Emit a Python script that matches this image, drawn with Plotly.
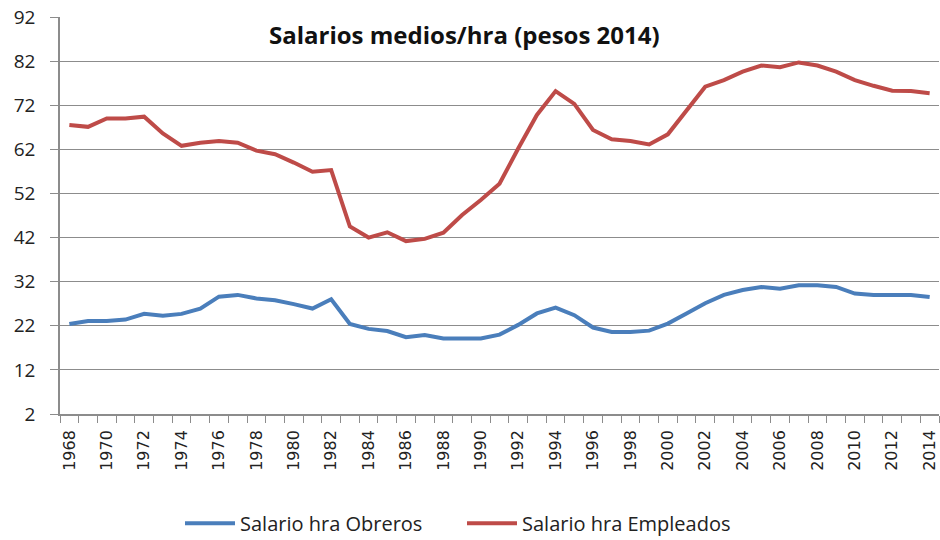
import plotly.graph_objects as go

years = list(range(1968, 2015))
obreros = [22.4, 23.1, 23.1, 23.4, 24.7, 24.3, 24.7, 25.9, 28.6, 29.0,
           28.2, 27.8, 26.9, 25.9, 28.0, 22.4, 21.3, 20.8, 19.4, 19.9,
           19.1, 19.1, 19.1, 20.0, 22.2, 24.8, 26.1, 24.4, 21.6, 20.6,
           20.6, 20.9, 22.5, 24.8, 27.1, 29.0, 30.1, 30.8, 30.4, 31.2,
           31.2, 30.8, 29.3, 29.0, 29.0, 29.0, 28.5]
empleados = [67.5, 67.1, 69.0, 69.0, 69.4, 65.6, 62.8, 63.5, 63.9, 63.5,
             61.7, 60.9, 59.0, 56.9, 57.3, 44.5, 42.0, 43.2, 41.2, 41.7,
             43.1, 47.1, 50.5, 54.2, 62.2, 69.8, 75.2, 72.3, 66.4, 64.3,
             63.9, 63.1, 65.4, 70.7, 76.2, 77.7, 79.6, 81.0, 80.6, 81.7,
             81.0, 79.6, 77.7, 76.4, 75.3, 75.2, 74.7]
label_years = list(range(1968, 2015, 2))
y_ticks = list(range(2, 93, 10))
title_text = "Salarios medios/hra (pesos 2014)"

grid = "#8c8c8c"
fig = go.Figure()
fig.add_trace(go.Scatter(x=years, y=obreros, mode="lines", name="Salario hra Obreros",
                         line=dict(color="#4A7EBB", width=4)))
fig.add_trace(go.Scatter(x=years, y=empleados, mode="lines", name="Salario hra Empleados",
                         line=dict(color="#BE4B48", width=4)))

fig.update_layout(
    width=940, height=540,
    margin=dict(l=60, r=1, t=17, b=126, autoexpand=False),
    plot_bgcolor="white", paper_bgcolor="white",
    font=dict(family="Open Sans, Liberation Sans, sans-serif", size=15, color="#222222"),
    showlegend=True,
    legend=dict(orientation="h", x=(180 - 60) / 879, xanchor="left", y=-0.275, yanchor="middle",
                font=dict(size=20), itemwidth=50, entrywidth=217, entrywidthmode="pixels"),
    annotations=[dict(text="<b>" + title_text + "</b>", xref="paper", yref="paper",
                      x=0.46, y=(414 - 35) / 397, xanchor="center", yanchor="middle",
                      showarrow=False, font=dict(size=24, color="#111111"))],
)
fig.update_xaxes(
    range=[1967.5, 2014.5], tickmode="array", tickvals=label_years,
    ticktext=[str(y) for y in label_years], tickangle=-90,
    showgrid=False, showline=True, linecolor=grid, linewidth=1.5,
    ticks="outside", ticklen=8, tickcolor="rgba(0,0,0,0)",
    minor=dict(ticks="outside", tickmode="linear", tick0=1967.5, dtick=1,
               ticklen=7, tickcolor=grid, showgrid=False),
    tickfont=dict(size=16, family="DejaVu Sans, sans-serif"), zeroline=False,
)
fig.update_yaxes(
    range=[2, 92], tickmode="array", tickvals=y_ticks,
    showgrid=True, gridcolor=grid, gridwidth=1.2,
    showline=True, linecolor=grid, linewidth=1.5,
    ticks="outside", ticklen=8, tickcolor=grid, ticklabelstandoff=11,
    tickfont=dict(size=19), zeroline=False,
)
fig.write_html("out.html", config={"displayModeBar": False},
               post_script="document.body.style.margin='0';")
